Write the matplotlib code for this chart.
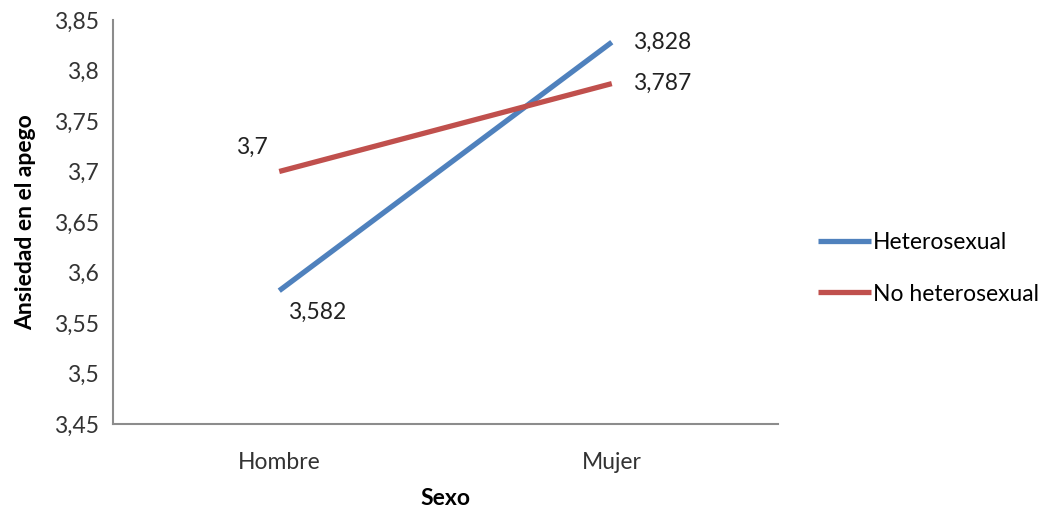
import matplotlib.pyplot as plt
from matplotlib.ticker import FuncFormatter

# medias de ansiedad en el apego por sexo y orientacion
sexo = ["Hombre", "Mujer"]
hetero = [3.582, 3.828]
no_hetero = [3.700, 3.787]
yticks = [3.45, 3.5, 3.55, 3.6, 3.65, 3.7, 3.75, 3.8, 3.85]

plt.rcParams['font.family'] = ['Lato', 'DejaVu Sans']
fs = 16.5

fig = plt.figure(figsize=(10.5, 5.07), dpi=100)
ax = fig.add_axes([0.1076, 0.1637, 0.6334, 0.7969])

x = [0.5, 1.5]
ax.plot(x, hetero, color='#4F81BD', lw=3.8, label='Heterosexual', solid_capstyle='butt')
ax.plot(x, no_hetero, color='#C0504D', lw=3.8, label='No heterosexual', solid_capstyle='butt')

def coma(v):
    return ('%g' % v).replace('.', ',')

# etiquetas de valor
ax.annotate(coma(hetero[0]), (x[0], hetero[0]), xytext=(6, -8), textcoords='offset points',
            ha='left', va='top', fontsize=fs, color='#222222')
ax.annotate(coma(no_hetero[0]), (x[0], no_hetero[0]), xytext=(-8, 10), textcoords='offset points',
            ha='right', va='bottom', fontsize=fs, color='#222222')
ax.annotate(coma(hetero[1]), (x[1], hetero[1]), xytext=(15, 0), textcoords='offset points',
            ha='left', va='center', fontsize=fs, color='#222222')
ax.annotate(coma(no_hetero[1]), (x[1], no_hetero[1]), xytext=(15, 0), textcoords='offset points',
            ha='left', va='center', fontsize=fs, color='#222222')

ax.set_xlim(0, 2)
ax.set_ylim(3.45, 3.85)
ax.set_yticks(yticks)
ax.yaxis.set_major_formatter(FuncFormatter(lambda v, p: coma(round(v, 2))))
ax.set_xticks(x)
ax.set_xticklabels(sexo)
ax.tick_params(length=0, labelsize=fs, colors='#333333', pad=10)
ax.tick_params(axis='x', pad=20)

for s in ['top', 'right']:
    ax.spines[s].set_visible(False)
for s in ['left', 'bottom']:
    ax.spines[s].set_color('#8C8C8C')
    ax.spines[s].set_linewidth(1.5)

ax.set_xlabel('Sexo', fontsize=fs, fontweight='bold', labelpad=11)
ax.set_ylabel('Ansiedad en el apego', fontsize=fs, fontweight='bold', labelpad=13)

ax.legend(loc='center left', bbox_to_anchor=(1.029, 0.386), frameon=False, fontsize=fs,
          handlelength=2.3, handletextpad=0.1, labelspacing=1.35)

fig.savefig('out.png', dpi=100)
